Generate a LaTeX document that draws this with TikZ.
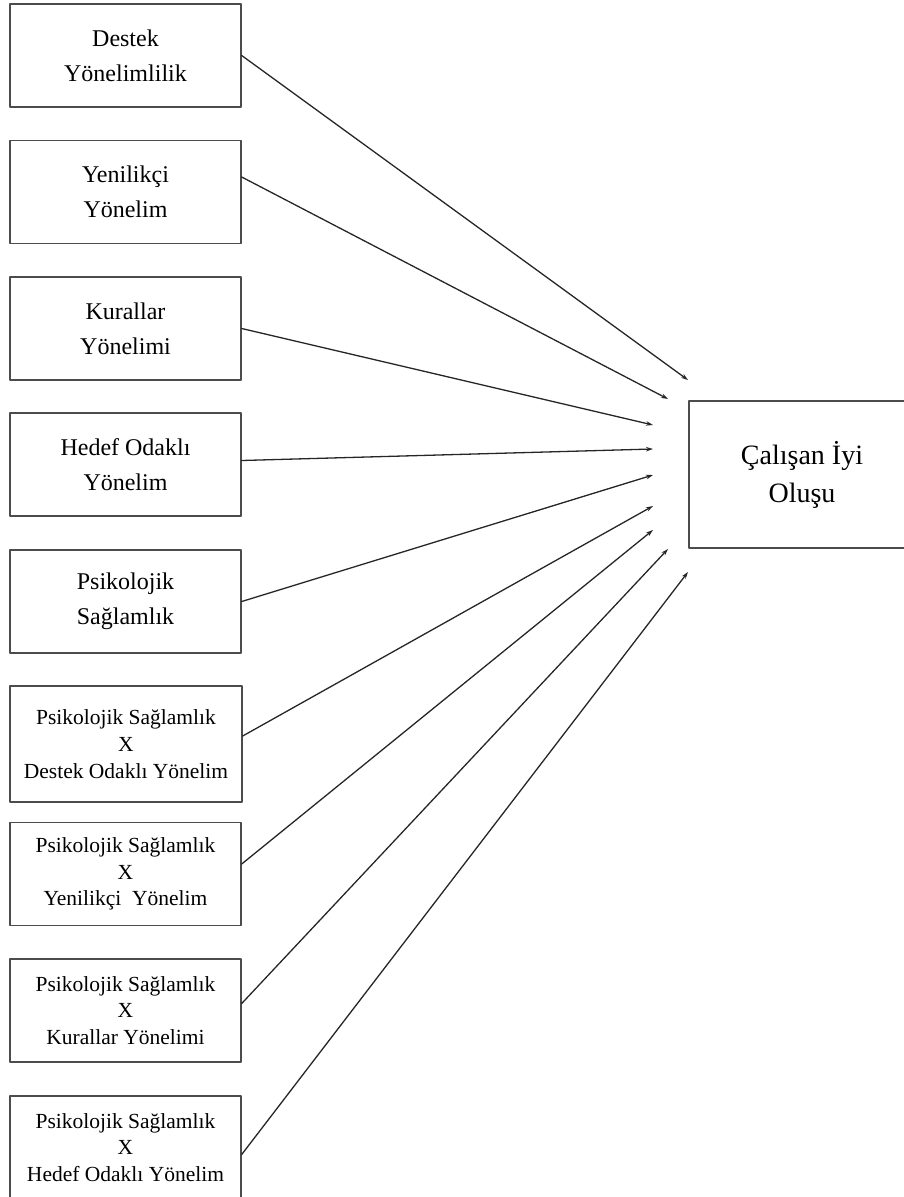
\documentclass[tikz,border=0pt]{standalone}
\usepackage{fontspec}
\setmainfont{Liberation Serif}
\usetikzlibrary{arrows.meta}

\begin{document}
\begin{tikzpicture}[x=1pt, y=-1pt, line cap=round, line join=round,
    kutu/.style={draw=black!70, line width=1.4pt, minimum width=231pt, minimum height=103pt,
                 align=center, inner sep=0pt, font=\fontsize{24}{35}\selectfont},
    kutu3/.style={kutu, font=\fontsize{21.5}{26.7}\selectfont},
    ok/.style={line width=1.3pt, draw=black!85, -{Stealth[length=7pt,width=4.5pt]}}]

  %% ════ sol kutular ════
  \node[kutu]  (b1) at (125.5,55.5)  {Destek\\Yönelimlilik};
  \node[kutu]  (b2) at (125.5,192)   {Yenilikçi\\Yönelim};
  \node[kutu]  (b3) at (125.5,328.5) {Kurallar\\Yönelimi};
  \node[kutu]  (b4) at (125.5,464.5) {Hedef Odaklı\\Yönelim};
  \node[kutu]  (b5) at (125.5,601.5) {Psikolojik\\Sağlamlık};
  \node[kutu3, minimum width=232pt, minimum height=116pt] (b6) at (126,744)
        {Psikolojik Sağlamlık\\X\\Destek Odaklı Yönelim};
  \node[kutu3] (b7) at (125.5,874)   {Psikolojik Sağlamlık\\X\\Yenilikçi\ \ Yönelim};
  \node[kutu3] (b8) at (125.5,1010.5) {Psikolojik Sağlamlık\\X\\Kurallar Yönelimi};
  \node[kutu3] (b9) at (125.5,1147.5) {Psikolojik Sağlamlık\\X\\Hedef Odaklı Yönelim};

  %% ════ sağ kutu (sağ kenarı resmin dışında) ════
  \node[kutu, minimum width=226pt, minimum height=147pt, font=\fontsize{28}{38}\selectfont]
        (iyi) at (802,474.5) {Çalışan İyi\\Oluşu};

  %% ════ ok uçları (kutunun solunda yay gibi dizili) ════
  \coordinate (t1) at (688,380);
  \coordinate (t2) at (668,399);
  \coordinate (t3) at (653,425);
  \coordinate (t4) at (653,449);
  \coordinate (t5) at (653,475);
  \coordinate (t6) at (653,506);
  \coordinate (t7) at (653,530);
  \coordinate (t8) at (668,549);
  \coordinate (t9) at (688,572);

  %% ════ oklar ════
  \draw[ok] (b1.east) -- (t1);
  \draw[ok] ([yshift=15pt]b2.east) -- (t2);
  \draw[ok] (b3.east) -- (t3);
  \draw[ok] ([yshift=4pt]b4.east) -- (t4);
  \draw[ok] (b5.east) -- (t5);
  \draw[ok] ([yshift=8pt]b6.east) -- (t6);
  \draw[ok] ([yshift=10pt]b7.east) -- (t7);
  \draw[ok] ([yshift=7pt]b8.east) -- (t8);
  \draw[ok] ([yshift=-7pt]b9.east) -- (t9);

  % tuvali sabitle: alt ve sağ kutu kırpılsın
  \pgfresetboundingbox
  \path[use as bounding box] (0,0) rectangle (904,1197);
\end{tikzpicture}
\end{document}
